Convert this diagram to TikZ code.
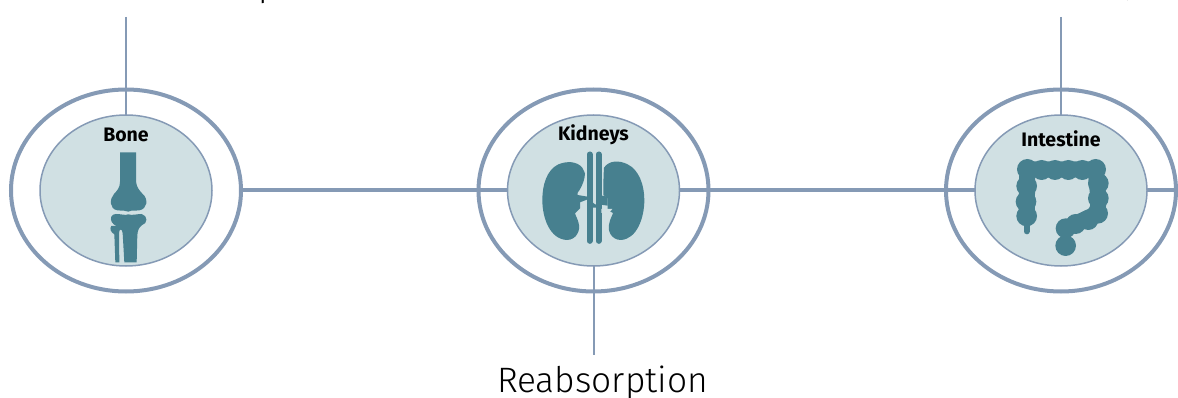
\documentclass[tikz,border=0pt]{standalone}
\usepackage{fontspec}
\setmainfont{Fira Sans}
\newfontfamily\lightfont{Fira Sans Light}
\usetikzlibrary{shapes.geometric}
\definecolor{ringblue}{HTML}{859AB5}
\definecolor{paleteal}{HTML}{D0E0E3}
\definecolor{organ}{HTML}{47808F}
\tikzset{
  outerring/.style={ellipse,draw=ringblue,line width=4pt,minimum width=230pt,minimum height=202pt,inner sep=0pt,outer sep=0pt},
  innerdisc/.style={ellipse,draw=ringblue,fill=paleteal,line width=1.5pt,minimum width=172pt,minimum height=151pt,inner sep=0pt,outer sep=0pt},
  hlink/.style={draw=ringblue,line width=4pt},
  vlink/.style={draw=ringblue,line width=2pt},
  organlabel/.style={font=\fontsize{19.5}{20}\selectfont\bfseries,text=black,inner sep=0pt},
  biglabel/.style={font=\lightfont\fontsize{35.3}{36}\selectfont,text=black,inner sep=0pt,anchor=base},
  organfill/.style={fill=organ,draw=none},
  organstroke/.style={draw=organ,line cap=round,line join=round}
}
\begin{document}
\begin{tikzpicture}[x=1pt,y=-1pt]
\useasboundingbox (0,0) rectangle (1178,398);
\clip (0,0) rectangle (1178,398);
\node[outerring] (boneO) at (126,190.5) {};
\node[outerring] (kidO) at (593.5,190.5) {};
\node[outerring] (intO) at (1061,190.5) {};
\coordinate (boneTop) at (126,17);
\coordinate (intTop) at (1061,17);
\coordinate (kidBot) at (593.5,355);
\coordinate (rightEnd) at (1178,190.5);
\node[innerdisc] (boneI) at (126,190.5) {};
\node[innerdisc] (kidI) at (593.5,190.5) {};
\node[innerdisc] (intI) at (1061,190.5) {};
\path[hlink] (boneO.east) -- (kidI.west);
\path[hlink] (kidI.east) -- (intI.west);
\path[hlink] (intI.east) -- (rightEnd);
\path[vlink] (boneTop) -- (boneI.north);
\path[vlink] (intTop) -- (intI.north);
\path[vlink] (kidI.south) -- (kidBot);
\node[organlabel] (boneL) at (126,135) {Bone};
\node[organlabel] (kidL) at (593.5,135) {Kidneys};
\node[organlabel] (intL) at (1061,139) {Intestine};
\node[biglabel] (reab) at (602.5,392) {Reabsorption};
\node[biglabel] (topL) at (269,-3) {p};
\node[biglabel] (topR) at (1134,-6) {y};
% bone
\begin{scope}[shift={(90,145)},scale=1/3]
\path[organfill] (90,22) -- (138,22) -- (138,110) .. controls (140,128) and (150,138) .. (158,147)
 .. controls (176,162) and (172,192) .. (148,196) .. controls (135,198) and (128,194) .. (115,200)
 .. controls (105,194) and (95,198) .. (82,196) .. controls (58,192) and (58,162) .. (72,147)
 .. controls (82,136) and (90,128) .. (90,110) -- cycle;
\path[organfill] (78,207) .. controls (95,207) and (105,212) .. (115,208) .. controls (125,212) and (140,207) .. (155,207)
 .. controls (174,212) and (174,236) .. (155,241) .. controls (146,248) and (143,258) .. (142,270)
 -- (140,352) -- (103,352) -- (98,265) .. controls (97,250) and (87,250) .. (87,265) -- (88,352) -- (76,352) -- (73,268)
 .. controls (62,262) and (58,250) .. (64,243) -- (80,243) .. controls (66,238) and (60,225) .. (64,215) .. controls (66,210) and (72,207) .. (78,207) -- cycle;
\end{scope}
% kidneys
\begin{scope}[shift={(535,145)},scale=1/3]
\path[organfill] (142,68) .. controls (125,48) and (95,48) .. (70,58) .. controls (35,75) and (22,120) .. (22,165)
 .. controls (22,220) and (45,282) .. (95,285) .. controls (125,285) and (137,255) .. (131,235)
 .. controls (128,222) and (122,212) .. (120,205) -- (135,190) -- (135,172) -- (158,163) -- (158,155) -- (128,150) -- (128,143)
 .. controls (142,125) and (150,100) .. (150,85) -- cycle;
\path[organfill] (207,68) .. controls (222,46) and (252,45) .. (278,58) .. controls (312,75) and (328,120) .. (328,165)
 .. controls (328,220) and (305,282) .. (258,285) .. controls (228,285) and (216,255) .. (223,235)
 .. controls (225,222) and (232,212) .. (234,204) -- (218,196) -- (218,160) -- (205,150) .. controls (205,125) and (205,100) .. (207,68) -- cycle;
\path[organstroke,line width=5.7pt] (164,28) -- (164,288);
\path[organstroke,line width=5.7pt] (191,28) -- (191,288);
\path[organfill] (164,165) -- (180,178) -- (191,178) -- (191,188) -- (164,188) -- cycle;
\path[organfill] (191,150) -- (218,155) -- (218,182) -- (191,178) -- cycle;
\path[fill=paleteal,draw=none] (199,192) -- (232,192) -- (222,204) -- (199,204) -- cycle;
\end{scope}
% intestine
\begin{scope}[shift={(1005,150)},scale=1/3]
\foreach \x/\y/\r in {67/58/31,110/60/30,150/60/30,190/60/30,232/60/30,272/58/31,280/100/31,280/145/31,278/190/31,250/210/30,212/222/30,182/235/30,182/287/31,65/108/31,63/155/31,65/198/31}{
  \path[organfill] (\x,\y) circle[radius=\r];
}
\path[organstroke,line width=16pt] (67,58) -- (272,58) -- (280,145) -- (278,190) -- (182,235);
\path[organstroke,line width=16pt] (67,58) -- (65,198);
\path[organstroke,line width=10pt] (182,235) -- (182,287);
\path[organstroke,line width=6pt] (65,198) -- (65,244);
\end{scope}
\end{tikzpicture}
\end{document}
